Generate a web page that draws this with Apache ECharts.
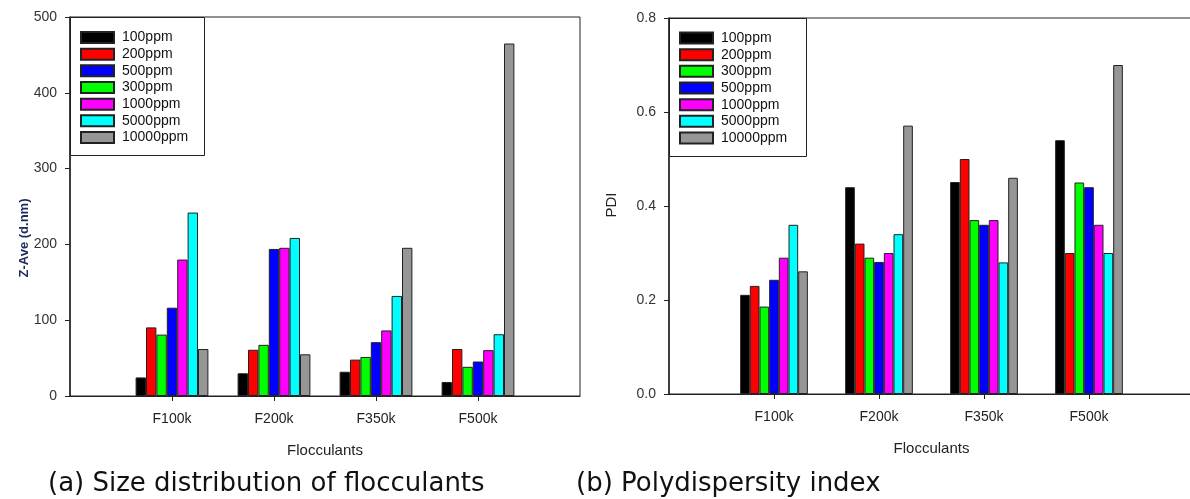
<!DOCTYPE html>
<html>
<head>
<meta charset="utf-8">
<script src="https://cdn.jsdelivr.net/npm/echarts@6/dist/echarts.min.js"></script>
<style>
html,body{margin:0;padding:0;background:#fff;}
#chart{width:1190px;height:499px;}
</style>
</head>
<body>
<div id="chart"></div>
<script>
// ---- data ----
const categories = ['F100k', 'F200k', 'F350k', 'F500k'];
const seriesNames = ['100ppm', '200ppm', '300ppm', '500ppm', '1000ppm', '5000ppm', '10000ppm'];
const legendOrderA = ['100ppm', '200ppm', '500ppm', '300ppm', '1000ppm', '5000ppm', '10000ppm'];
const legendOrderB = ['100ppm', '200ppm', '300ppm', '500ppm', '1000ppm', '5000ppm', '10000ppm'];
const colors = ['#000000', '#ff0000', '#00ff00', '#0000ff', '#ff00ff', '#00ffff', '#969696'];

// (a) Z-Ave (d.nm)
const zave100 = [24.5, 30, 32, 18.5];
const zave200 = [90.5, 61, 48, 62];
const zave300 = [81, 67.5, 51.5, 38.5];
const zave500 = [116.5, 194, 71, 45.5];
const zave1000 = [180, 195.5, 86.5, 60.5];
const zave5000 = [242, 208.5, 132, 81.5];
const zave10000 = [62, 55, 195.5, 465];

// (b) PDI
const pdi100 = [0.211, 0.44, 0.451, 0.54];
const pdi200 = [0.23, 0.32, 0.50, 0.30];
const pdi300 = [0.186, 0.29, 0.37, 0.45];
const pdi500 = [0.243, 0.281, 0.36, 0.44];
const pdi1000 = [0.29, 0.30, 0.37, 0.36];
const pdi5000 = [0.36, 0.34, 0.28, 0.30];
const pdi10000 = [0.261, 0.571, 0.46, 0.70];

const zaveSets = [zave100, zave200, zave300, zave500, zave1000, zave5000, zave10000];
const pdiSets = [pdi100, pdi200, pdi300, pdi500, pdi1000, pdi5000, pdi10000];

// ---- chart ----
const FONT = 'Liberation Sans, Arial, sans-serif';
const axisCats = [''].concat(categories, ['']);

function xAxisCfg(gridIndex) {
  return {
    type: 'category', gridIndex: gridIndex, data: axisCats, boundaryGap: false,
    axisLine: { show: true, lineStyle: { color: '#222', width: 1 } },
    axisTick: { show: true, length: 5, interval: function (i) { return i >= 1 && i <= 4; }, lineStyle: { color: '#222' } },
    axisLabel: { interval: 0, fontSize: 14, color: '#222', margin: 16, fontFamily: FONT },
    splitLine: { show: false },
    name: 'Flocculants', nameLocation: 'middle', nameGap: 47,
    nameTextStyle: { fontSize: 15, color: '#222', fontFamily: FONT }
  };
}

function yAxisCfg(gridIndex, max, interval, fmt) {
  return {
    type: 'value', gridIndex: gridIndex, min: 0, max: max, interval: interval,
    axisLine: { show: true, lineStyle: { color: '#222', width: 1.5 } },
    axisTick: { show: true, length: 5, lineStyle: { color: '#222' } },
    axisLabel: { fontSize: 14, color: '#333', margin: 13, fontFamily: FONT, formatter: fmt },
    splitLine: { show: false }
  };
}

const series = [];
seriesNames.forEach(function (name, i) {
  series.push({
    type: 'bar', name: name, xAxisIndex: 0, yAxisIndex: 0,
    data: [null].concat(zaveSets[i], [null]),
    barWidth: 10.4, barGap: '0%',
    itemStyle: { color: colors[i], borderColor: '#222', borderWidth: 1 }
  });
});
seriesNames.forEach(function (name, i) {
  series.push({
    type: 'bar', name: name, xAxisIndex: 1, yAxisIndex: 1,
    data: [null].concat(pdiSets[i], [null]),
    barWidth: 9.67, barGap: '0%',
    itemStyle: { color: colors[i], borderColor: '#222', borderWidth: 1 }
  });
});

function legendCfg(data, left, top) {
  return {
    data: data, orient: 'vertical', left: left, top: top, padding: 0,
    itemWidth: 33, itemHeight: 11, itemGap: 2.67, icon: 'rect', selectedMode: false,
    textStyle: { fontSize: 14, color: '#111', fontFamily: FONT, padding: [0, 0, 0, 3] }
  };
}

const option = {
  animation: false,
  backgroundColor: '#fff',
  grid: [
    { left: 70, top: 17, width: 510, height: 379, show: true, borderColor: '#222', borderWidth: 1, backgroundColor: 'transparent', containLabel: false, outerBoundsMode: 'none' },
    { left: 669, top: 18, width: 525, height: 376, show: true, borderColor: '#222', borderWidth: 1, backgroundColor: 'transparent', containLabel: false, outerBoundsMode: 'none' }
  ],
  xAxis: [xAxisCfg(0), xAxisCfg(1)],
  yAxis: [
    yAxisCfg(0, 500, 100, function (v) { return String(v); }),
    yAxisCfg(1, 0.8, 0.2, function (v) { return v.toFixed(1); })
  ],
  legend: [legendCfg(legendOrderA, 80, 30.5), legendCfg(legendOrderB, 679, 31)],
  graphic: [
    { type: 'rect', z: 3, shape: { x: 70.5, y: 17.5, width: 134, height: 138 }, style: { fill: '#fff', stroke: '#222', lineWidth: 1 } },
    { type: 'rect', z: 3, shape: { x: 669.5, y: 18.5, width: 137, height: 138 }, style: { fill: '#fff', stroke: '#222', lineWidth: 1 } },
    { type: 'text', z: 5, x: 24, y: 238, rotation: Math.PI / 2,
      style: { text: 'Z-Ave (d.nm)', font: 'bold 13px Liberation Sans, Arial, sans-serif', fill: '#1c2b5a', textAlign: 'center', textVerticalAlign: 'middle' } },
    { type: 'text', z: 5, x: 612, y: 205, rotation: Math.PI / 2,
      style: { text: 'PDI', font: '15px Liberation Sans, Arial, sans-serif', fill: '#222', textAlign: 'center', textVerticalAlign: 'middle' } },
    { type: 'text', z: 5, x: 48, y: 484,
      style: { text: '(a) Size distribution of flocculants', font: '26px DejaVu Sans, sans-serif', fill: '#111', textAlign: 'left', textVerticalAlign: 'middle' } },
    { type: 'text', z: 5, x: 576, y: 484,
      style: { text: '(b) Polydispersity index', font: '26px DejaVu Sans, sans-serif', fill: '#111', textAlign: 'left', textVerticalAlign: 'middle' } }
  ],
  series: series
};

const chart = echarts.init(document.getElementById('chart'), null, { renderer: 'canvas' });
chart.setOption(option);
</script>
</body>
</html>
